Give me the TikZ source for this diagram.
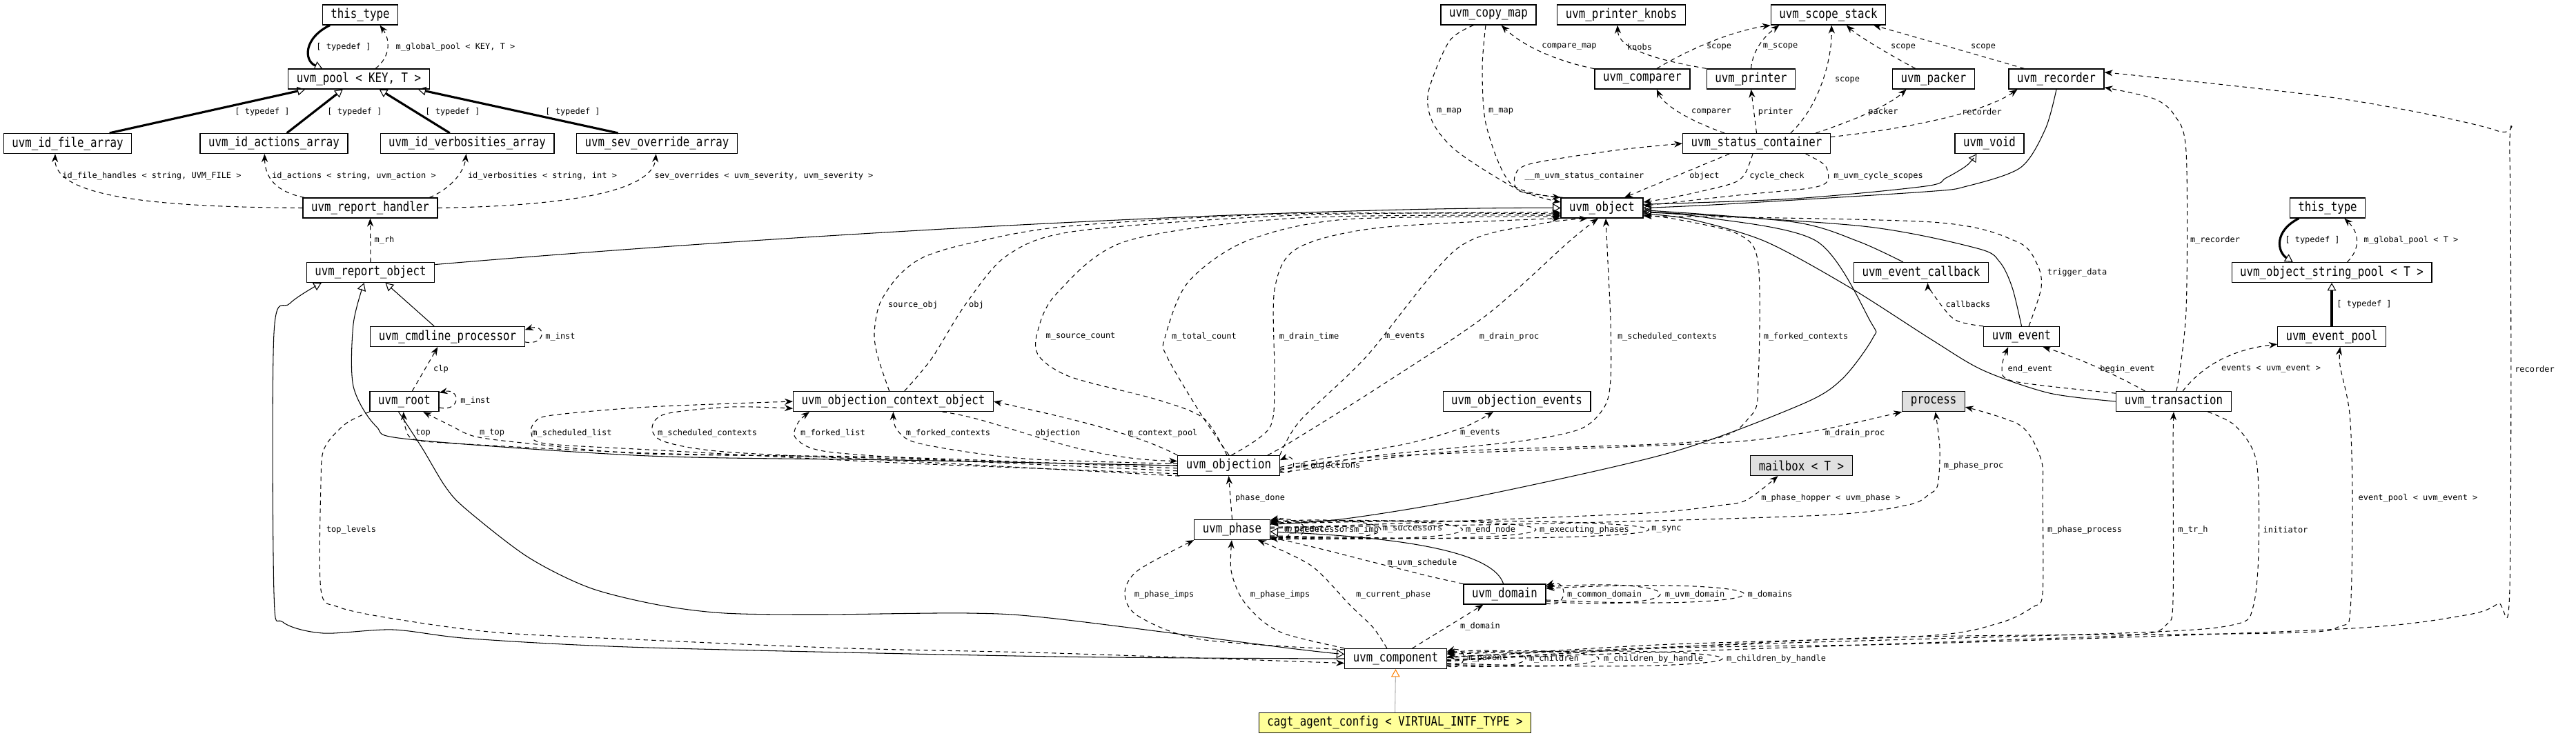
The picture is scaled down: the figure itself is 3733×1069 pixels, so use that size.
\documentclass[tikz,border=0pt]{standalone}
\usepackage{fontspec}
\newfontfamily\nodefont{DejaVu Sans Mono}[FakeStretch=0.83]
\newfontfamily\lblfont{DejaVu Sans Mono}
\usetikzlibrary{arrows.meta}
\definecolor{extgray}{RGB}{224,224,224}
\definecolor{docyellow}{RGB}{255,255,153}
\definecolor{tmplorange}{RGB}{255,128,0}
\tikzset{
  cls/.style={draw, line width=0.35pt, minimum height=0.29cm, inner xsep=0.12cm, inner ysep=0pt, font=\nodefont\fontsize{5.4}{6}\selectfont},
  extcls/.style={cls, fill=extgray},
  doccls/.style={cls, fill=docyellow},
  lbl/.style={font=\lblfont\fontsize{3.4}{4}\selectfont, inner sep=0pt},
  mem/.style={line width=0.3pt, dash pattern=on 1.8pt off 1.5pt, -{Stealth[length=3.4pt,width=2.6pt]}},
  inh/.style={line width=0.3pt, -{Triangle[open,length=3.2pt,width=3.6pt]}},
  thk/.style={line width=0.9pt, -{Triangle[open,length=3.2pt,width=3.6pt,line width=0.3pt]}},
  tpl/.style={line width=0.3pt, draw=gray!60, -{Triangle[open,length=3.2pt,width=3.6pt,color=tmplorange]}},
}

\begin{document}
\begin{tikzpicture}[x=0.01cm, y=-0.01cm]
\useasboundingbox (0,0) rectangle (3733,1069);

\node (ttL) at (522,21.5) [cls] {this\_type};
\node (pool) at (520,114.5) [cls] {uvm\_pool < KEY, T >};
\node (idfile) at (98,208) [cls] {uvm\_id\_file\_array};
\node (idact) at (397,208) [cls] {uvm\_id\_actions\_array};
\node (idverb) at (677,208) [cls] {uvm\_id\_verbosities\_array};
\node (sevov) at (952,208) [cls] {uvm\_sev\_override\_array};
\node (rhandler) at (536.5,301.5) [cls] {uvm\_report\_handler};
\node (robj) at (537,395) [cls] {uvm\_report\_object};
\node (cmdline) at (648.5,488) [cls] {uvm\_cmdline\_processor};
\node (root) at (586,582) [cls] {uvm\_root};
\node (occ) at (1294.5,582) [cls] {uvm\_objection\_context\_object};
\node (objn) at (1780.5,675) [cls] {uvm\_objection};
\node (objev) at (2198,582) [cls] {uvm\_objection\_events};
\node (proc) at (2802,582) [extcls] {process};
\node (mbox) at (2610.5,675) [extcls] {mailbox < T >};
\node (phase) at (1785.5,768) [cls] {uvm\_phase};
\node (domain) at (2180.5,861.5) [cls] {uvm\_domain};
\node (comp) at (2022.5,955) [cls] {uvm\_component};
\node (cagt) at (2021.5,1048) [doccls] {cagt\_agent\_config < VIRTUAL\_INTF\_TYPE >};
\node (uobj) at (2321.5,301.5) [cls] {uvm\_object};
\node (copymap) at (2157,21.5) [cls] {uvm\_copy\_map};
\node (knobs) at (2349.5,21.5) [cls] {uvm\_printer\_knobs};
\node (scopestk) at (2649.5,21.5) [cls] {uvm\_scope\_stack};
\node (comparer) at (2380,114.5) [cls] {uvm\_comparer};
\node (printer) at (2537.5,114.5) [cls] {uvm\_printer};
\node (packer) at (2802,114.5) [cls] {uvm\_packer};
\node (recorder) at (2980,114.5) [cls] {uvm\_recorder};
\node (status) at (2545.5,208) [cls] {uvm\_status\_container};
\node (void) at (2883,208) [cls] {uvm\_void};
\node (evcb) at (2784,395) [cls] {uvm\_event\_callback};
\node (event) at (2929.5,488) [cls] {uvm\_event};
\node (trans) at (3150,582) [cls] {uvm\_transaction};
\node (ttR) at (3373,301.5) [cls] {this\_type};
\node (strpool) at (3379,395) [cls] {uvm\_object\_string\_pool < T >};
\node (evpool) at (3379,488) [cls] {uvm\_event\_pool};

\draw[thk] (ttL.199) .. controls (440,55) and (440,88) .. (pool.164);
\draw[mem] (pool.32) .. controls (566,82) and (566,58) .. (ttL.332);
\draw[thk] (idfile.14) -- (pool.191);
\draw[thk] (idact.39) -- (pool.213);
\draw[thk] (idverb.149) -- (pool.333);
\draw[thk] (sevov.165) -- (pool.350);
\draw[mem] (rhandler.west) .. controls (250,300) and (78,290) .. (idfile.220);
\draw[mem] (rhandler.171) .. controls (400,278) and (384,258) .. (idact.228);
\draw[mem] (rhandler.10) .. controls (650,275) and (672,252) .. (idverb.265);
\draw[mem] (rhandler.east) .. controls (850,298) and (946,272) .. (sevov.265);
\draw[mem] (robj.north) -- (rhandler.south);

\draw[inh] (cmdline.142) -- (robj.325);
\draw[inh] plot[smooth] coordinates {(objn.west) (1300,667) (940,661) (594,637) (545,618) (512,560) (512,470) (robj.238)};
\draw[inh] plot[smooth] coordinates {(comp.west) (1530,952) (940,939) (683,926) (570,913) (468,918) (410,902) (397,860) (397,483) (420,440) (robj.192)};
\draw[inh] (robj.7) .. controls (1200,335) and (1900,300) .. (uobj.west);
\draw[mem] (root.-10) .. controls (668,598) and (668,562) .. (root.14);
\draw[mem] (cmdline.-4) .. controls (792,502) and (792,468) .. (cmdline.5);
\draw[mem] (root.53) -- (cmdline.227);
\draw[mem] plot[smooth] coordinates {(root.south west) (500,615) (470,650) (465,700) (465,855) (490,880) (570,897) (720,917) (940,928) (1230,940) (1530,947) (comp.185)};
\draw[inh] plot[smooth] coordinates {(root.241) (612,650) (645,705) (674,737) (764,807) (854,852) (954,877) (1050,889) (1188,891) (1404,889) (1530,897) (1870,940) (comp.175)};

\draw[mem] plot[smooth] coordinates {(objn.186) (1300,665) (940,657) (660,643) (600,637) (588,622) (root.-95)};
\draw[mem] plot[smooth] coordinates {(objn.183) (1300,663) (940,658) (767,643) (689,633) (653,617) (root.331)};
\draw[mem] plot[smooth] coordinates {(objn.189) (1300,671) (940,652) (790,643) (770,628) (775,612) (800,602) (940,590) (occ.west)};
\draw[mem] plot[smooth] coordinates {(objn.192) (1300,668) (1050,655) (962,640) (945,620) (965,600) (1060,590) (occ.184)};
\draw[mem] plot[smooth] coordinates {(objn.180) (1400,668) (1200,655) (1153,635) (1157,612) ([xshift=0.24cm]occ.south west)};
\draw[mem] plot[smooth] coordinates {(objn.178) (1500,666) (1400,655) (1322,640) (1298,620) (occ.south)};
\draw[mem] (occ.-12) .. controls (1460,610) and (1550,665) .. (objn.175);
\draw[mem] (objn.north west) .. controls (1640,625) and (1520,600) .. (occ.east);

\draw[mem] plot[smooth] coordinates {(occ.111) (1272,517) (1267,483) (1275,440) (1302,400) (1338,373) (1404,353) (1547,328) (1870,310) (uobj.188)};
\draw[mem] plot[smooth] coordinates {(occ.43) (1350,520) (1400,440) (1460,370) (1560,335) (1880,312) (uobj.186)};
\draw[mem] plot[smooth] coordinates {(objn.100) (1745,607) (1679,580) (1553,547) (1506,517) (1503,483) (1530,427) (1631,350) (1880,316) (uobj.190)};
\draw[mem] plot[smooth] coordinates {(objn.88) (1740,600) (1691,517) (1688,490) (1721,410) (1805,350) (1950,318) (uobj.192)};
\draw[mem] plot[smooth] coordinates {(objn.75) (1840,620) (1847,550) (1847,420) (1880,360) (2000,330) (uobj.194)};
\draw[mem] plot[smooth] coordinates {(objn.north east) (1884,610) (1980,517) (2112,360) (2230,325) (uobj.216)};
\draw[mem] plot[smooth] coordinates {(objn.15) (1872,640) (2000,560) (2154,457) (2274,350) (uobj.250)};
\draw[mem] plot[smooth] coordinates {(objn.-5) (2000,660) (2200,640) (2290,622) (2325,590) (2334,550) (2334,467) (2330,380) (uobj.290)};
\draw[mem] plot[smooth] coordinates {(objn.-8) (2100,655) (2460,640) (2537,603) (2548,550) (2548,383) (2520,340) (2430,318) (uobj.-10)};
\draw[mem] (objn.-6) .. controls (1880,695) and (1880,655) .. (objn.6);
\draw[mem] plot[smooth] coordinates {(objn.-2) (1900,668) (2040,643) (2120,620) (objev.204)};
\draw[mem] plot[smooth] coordinates {(objn.-4) (2000,662) (2300,650) (2520,640) (2640,623) (proc.south west)};

\draw[mem] (phase.north) -- (objn.south);
\draw[inh] plot[smooth] coordinates {(phase.8) (1950,752) (2130,722) (2418,657) (2609,587) (2669,550) (2714,490) (2711,467) (2633,350) (2470,315) (uobj.-6)};
\draw[mem] plot[smooth] coordinates {(comp.170) (1740,927) (1649,893) (1630,860) (1649,827) (phase.south west)};
\draw[mem] plot[smooth] coordinates {(comp.north west) (1865,920) (1829,900) (1799,867) (1784,827) (phase.-92)};
\draw[mem] plot[smooth] coordinates {(comp.130) (1990,910) (1956,877) (1900,820) (phase.338)};
\draw[mem] (domain.north west) .. controls (2040,830) and (1900,790) .. (phase.-12);
\draw[inh] (domain.97) .. controls (2165,805) and (2060,780) .. (phase.-3);
\draw[mem] (comp.32) -- (domain.206);
\draw[mem] plot[smooth] coordinates {(phase.4) (2200,760) (2640,747) (2765,732) (2795,717) (2808,703) (2811,650) (proc.-80)};
\draw[mem] plot[smooth] coordinates {(phase.2) (2200,752) (2400,743) (2490,733) (2531,725) (mbox.204)};
\draw[tpl] (cagt.north) -- (comp.south);

\draw[mem] (phase.-14) .. controls (1880,790) and (1880,745) .. (phase.14);
\draw[mem] (phase.-13) .. controls (1905,791) and (1905,745) .. (phase.13);
\draw[mem] (phase.-12) .. controls (2053,792) and (2053,744) .. (phase.12);
\draw[mem] (phase.-11) .. controls (2211,793) and (2211,743) .. (phase.11);
\draw[mem] (phase.-10) .. controls (2353,794) and (2353,742) .. (phase.10);
\draw[mem] (phase.-9) .. controls (2571,795) and (2571,741) .. (phase.9);
\draw[mem] (domain.-12) .. controls (2273,885) and (2273,838) .. (domain.12);
\draw[mem] (domain.-10) .. controls (2460,887) and (2460,836) .. (domain.10);
\draw[mem] (domain.-8) .. controls (2622,889) and (2622,834) .. (domain.8);
\draw[mem] (comp.-8) .. controls (2128,975) and (2128,935) .. (comp.8);
\draw[mem] (comp.-7) .. controls (2248,977) and (2248,933) .. (comp.7);
\draw[mem] (comp.-6) .. controls (2389,979) and (2389,931) .. (comp.6);
\draw[mem] (comp.-5) .. controls (2628,981) and (2628,929) .. (comp.5);

\draw[mem] plot[smooth] coordinates {(uobj.165) (2202,277) (2196,253) (2220,237) (2340,218) (status.west)};
\draw[mem] (status.201) -- (uobj.25);
\draw[mem] plot[smooth] coordinates {(status.250) (2528,253) (2507,267) (2430,285) (uobj.8)};
\draw[mem] plot[smooth] coordinates {(status.348) (2645,240) (2648,263) (2621,273) (2519,283) (uobj.3)};
\draw[mem] (status.162) .. controls (2440,172) and (2410,150) .. (comparer.324);
\draw[mem] (status.north) -- (printer.south);
\draw[mem] (status.17) .. controls (2640,150) and (2655,80) .. (scopestk.287);
\draw[mem] (status.10) .. controls (2700,170) and (2740,150) .. (packer.201);
\draw[mem] (status.5) .. controls (2780,185) and (2880,160) .. (recorder.195);
\draw[mem] (comparer.168) .. controls (2240,85) and (2200,60) .. (copymap.321);
\draw[mem] (printer.north west) .. controls (2360,80) and (2345,60) .. (knobs.250);
\draw[mem] (comparer.36) .. controls (2450,70) and (2510,45) .. (scopestk.south west);
\draw[mem] (printer.north) .. controls (2540,70) and (2560,50) .. (scopestk.192);
\draw[mem] (packer.150) .. controls (2730,75) and (2690,50) .. (scopestk.330);
\draw[mem] (recorder.162) .. controls (2856,77) and (2780,55) .. (scopestk.347);
\draw[mem] plot[smooth] coordinates {(copymap.215) (2100,60) (2070,133) (2076,177) (2112,220) (2200,275) (uobj.172)};
\draw[mem] plot[smooth] coordinates {(copymap.255) (2148,100) (2154,183) (2190,267) (uobj.north west)};

\draw[inh] plot[smooth] coordinates {(recorder.south) (2964,187) (2928,243) (2850,270) (2790,278) (2500,296) (uobj.east)};
\draw[inh] plot[smooth] coordinates {(uobj.5) (2600,288) (2790,270) (2820,258) (2850,240) (void.219)};
\draw[inh] plot[smooth] coordinates {(evcb.150) (2693,350) (2600,322) (uobj.-3)};
\draw[inh] plot[smooth] coordinates {(event.north) (2916,417) (2898,380) (2865,360) (2700,328) (uobj.-5)};
\draw[inh] plot[smooth] coordinates {(trans.west) (2970,570) (2874,537) (2800,493) (2681,417) (2558,350) (2450,318) (uobj.-8)};
\draw[mem] plot[smooth] coordinates {(event.55) (2958,417) (2952,383) (2922,350) (2800,322) (uobj.-11)};
\draw[mem] plot[smooth] coordinates {(event.north west) (2832,463) (2799,423) (evcb.302)};
\draw[mem] plot[smooth] coordinates {(trans.172) (2919,553) (2901,533) (event.218)};
\draw[mem] (trans.160) .. controls (3050,535) and (3000,515) .. (event.334);
\draw[mem] (trans.49) .. controls (3200,520) and (3250,505) .. (evpool.188);
\draw[mem] plot[smooth] coordinates {(trans.75) (3168,450) (3168,220) (3151,167) (3121,143) (recorder.-10)};
\draw[mem] plot[smooth] coordinates {(comp.-3) (2400,940) (2790,933) (3391,912) (3572,892) (3620,875) (3637,850) (3637,230) (3620,190) (3391,143) (recorder.8)};
\draw[mem] plot[smooth] coordinates {(comp.-2) (2700,925) (3300,918) (3391,908) (3406,883) (3409,720) (3405,600) (3391,530) (evpool.309)};
\draw[mem] plot[smooth] coordinates {(trans.343) (3240,618) (3270,670) (3273,800) (3265,880) (3240,905) (3100,917) (2500,935) (comp.2)};
\draw[mem] plot[smooth] coordinates {(comp.-1) (2900,928) (3100,920) (3140,905) (3149,870) (3149,650) (trans.south)};
\draw[mem] plot[smooth] coordinates {(comp.1) (2400,935) (2790,922) (2898,903) (2946,880) (2960,860) (2960,720) (2958,667) (2928,617) (proc.-10)};
\draw[thk] (ttR.200) .. controls (3295,335) and (3300,365) .. (strpool.165);
\draw[mem] (strpool.34) .. controls (3420,362) and (3420,338) .. (ttR.328);
\draw[thk] (evpool.north) -- (strpool.south);

\node (lTd1) at (498,68) [lbl] {[ typedef ]};
\node (lGp1) at (660,68) [lbl] {m\_global\_pool < KEY, T >};
\node (lTd2) at (380,162) [lbl] {[ typedef ]};
\node (lTd3) at (514,162) [lbl] {[ typedef ]};
\node (lTd4) at (656,162) [lbl] {[ typedef ]};
\node (lTd5) at (830,162) [lbl] {[ typedef ]};
\node (lFh) at (220,255) [lbl] {id\_file\_handles < string, UVM\_FILE >};
\node (lAc) at (513,255) [lbl] {id\_actions < string, uvm\_action >};
\node (lVb) at (786,255) [lbl] {id\_verbosities < string, int >};
\node (lSv) at (1107,255) [lbl] {sev\_overrides < uvm\_severity, uvm\_severity >};
\node (lRh) at (557,348) [lbl] {m\_rh};
\node (lInst1) at (812,488) [lbl] {m\_inst};
\node (lInst2) at (689,581) [lbl] {m\_inst};
\node (lClp) at (639,535) [lbl] {clp};
\node (lTop) at (613,628) [lbl] {top};
\node (lMtop) at (713,628) [lbl] {m\_top};
\node (lSchList) at (829,628) [lbl] {m\_scheduled\_list};
\node (lTopLv) at (509,768) [lbl] {top\_levels};
\node (lSrc) at (1323,442) [lbl] {source\_obj};
\node (lObj) at (1415,442) [lbl] {obj};
\node (lSrcCnt) at (1566,488) [lbl] {m\_source\_count};
\node (lTotCnt) at (1745,488) [lbl] {m\_total\_count};
\node (lDrTime) at (1897,488) [lbl] {m\_drain\_time};
\node (lEv1) at (2036,488) [lbl] {m\_events};
\node (lDrProc1) at (2187,488) [lbl] {m\_drain\_proc};
\node (lSchCtx1) at (2416,488) [lbl] {m\_scheduled\_contexts};
\node (lFkCtx1) at (2617,488) [lbl] {m\_forked\_contexts};
\node (lSchCtx2) at (1025,628) [lbl] {m\_scheduled\_contexts};
\node (lFkList) at (1207,628) [lbl] {m\_forked\_list};
\node (lFkCtx2) at (1374,628) [lbl] {m\_forked\_contexts};
\node (lObjection) at (1533,628) [lbl] {objection};
\node (lCtxPool) at (1685,628) [lbl] {m\_context\_pool};
\node (lEv2) at (2145,628) [lbl] {m\_events};
\node (lDrProc2) at (2688,628) [lbl] {m\_drain\_proc};
\node (lObjs) at (1928,675) [lbl] {m\_objections};
\node (lPhDone) at (1826,722) [lbl] {phase\_done};
\node (lHopper) at (2653,722) [lbl] {m\_phase\_hopper < uvm\_phase >};
\node (lEvPool) at (3504,722) [lbl] {event\_pool < uvm\_event >};
\node (lParentPh) at (1890,768) [lbl] {m\_parent};
\node (lPred) at (1912,768) [lbl] {m\_predecessors};
\node (lImp) at (1980,768) [lbl] {m\_imp};
\node (lSucc) at (2047,768) [lbl] {m\_successors};
\node (lEnd) at (2160,768) [lbl] {m\_end\_node};
\node (lExec) at (2296,768) [lbl] {m\_executing\_phases};
\node (lSync) at (2415,768) [lbl] {m\_sync};
\node (lPhProcess) at (3021,768) [lbl] {m\_phase\_process};
\node (lTrh) at (3178,768) [lbl] {m\_tr\_h};
\node (lInit) at (3312,768) [lbl] {initiator};
\node (lSched) at (2061,816) [lbl] {m\_uvm\_schedule};
\node (lImps1) at (1687,862) [lbl] {m\_phase\_imps};
\node (lImps2) at (1855,862) [lbl] {m\_phase\_imps};
\node (lCurPh) at (2019,862) [lbl] {m\_current\_phase};
\node (lComDom) at (2325,862) [lbl] {m\_common\_domain};
\node (lUvmDom) at (2456,862) [lbl] {m\_uvm\_domain};
\node (lDoms) at (2565,862) [lbl] {m\_domains};
\node (lDomain) at (2145,908) [lbl] {m\_domain};
\node (lParent) at (2155,955) [lbl] {m\_parent};
\node (lChildren) at (2252,955) [lbl] {m\_children};
\node (lChH1) at (2396,955) [lbl] {m\_children\_by\_handle};
\node (lChH2) at (2574,955) [lbl] {m\_children\_by\_handle};
\node (lCmpMap) at (2274,68) [lbl] {compare\_map};
\node (lKnobs) at (2376,68) [lbl] {knobs};
\node (lScope1) at (2491,68) [lbl] {scope};
\node (lMscope) at (2580,68) [lbl] {m\_scope};
\node (lScope2) at (2758,68) [lbl] {scope};
\node (lScope3) at (2874,68) [lbl] {scope};
\node (lMap1) at (2100,162) [lbl] {m\_map};
\node (lMap2) at (2175,162) [lbl] {m\_map};
\node (lComparer) at (2480,162) [lbl] {comparer};
\node (lPrinter) at (2573,162) [lbl] {printer};
\node (lScope4) at (2677,116) [lbl] {scope};
\node (lPacker) at (2729,162) [lbl] {packer};
\node (lRecorder1) at (2872,162) [lbl] {recorder};
\node (lStatus) at (2296,255) [lbl] {\_\_m\_uvm\_status\_container};
\node (lObject) at (2470,255) [lbl] {object};
\node (lCycle) at (2575,255) [lbl] {cycle\_check};
\node (lCycScopes) at (2722,255) [lbl] {m\_uvm\_cycle\_scopes};
\node (lTrig) at (3010,395) [lbl] {trigger\_data};
\node (lCallbacks) at (2852,441) [lbl] {callbacks};
\node (lEndEv) at (2942,535) [lbl] {end\_event};
\node (lBeginEv) at (3083,535) [lbl] {begin\_event};
\node (lEvents) at (3291,535) [lbl] {events < uvm\_event >};
\node (lTd6) at (3426,441) [lbl] {[ typedef ]};
\node (lRecorder2) at (3673,535) [lbl] {recorder};
\node (lMphProc) at (2860,675) [lbl] {m\_phase\_proc};
\node (lMrec) at (3210,348) [lbl] {m\_recorder};
\node (lTd7) at (3351,348) [lbl] {[ typedef ]};
\node (lGp2) at (3494,348) [lbl] {m\_global\_pool < T >};
\end{tikzpicture}
\end{document}
